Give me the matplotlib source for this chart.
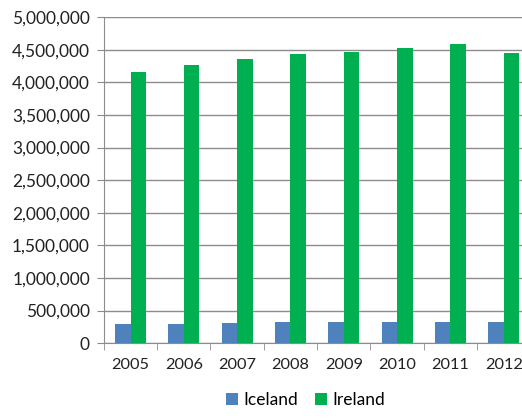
import matplotlib.pyplot as plt
from matplotlib.ticker import FuncFormatter, FixedLocator
import numpy as np

years = ["2005", "2006", "2007", "2008", "2009", "2010", "2011", "2012"]
iceland = [295000, 300000, 310000, 318000, 318000, 318000, 318000, 320000]
ireland = [4160000, 4260000, 4360000, 4430000, 4470000, 4520000, 4590000, 4450000]

plt.rcParams['font.family'] = ['Lato', 'DejaVu Sans']

fig = plt.figure(figsize=(5.22, 4.19), dpi=100)
ax = fig.add_axes([0.199, 0.181, 0.817, 0.778])

x = np.arange(len(years))
w = 0.29
ax.bar(x - w / 2, iceland, w, color="#4F81BD", label="Iceland", zorder=3)
ax.bar(x + w / 2, ireland, w, color="#00B050", label="Ireland", zorder=3)

ax.set_xlim(-0.5, len(years) - 0.5)
ax.set_ylim(0, 5000000)
ax.set_yticks(np.arange(0, 5000001, 500000))
ax.yaxis.set_major_formatter(FuncFormatter(lambda v, p: "{:,.0f}".format(v)))
ax.yaxis.grid(True, color="#8c8c8c", linewidth=1, zorder=0)

# category labels centred, tick marks on the category boundaries
ax.set_xticks(x)
ax.set_xticklabels(years)
ax.tick_params(axis="x", which="major", length=0, pad=11, labelsize=11.8, colors="#222222")
ax.xaxis.set_minor_locator(FixedLocator(np.arange(-0.5, len(years), 1)))
ax.tick_params(axis="x", which="minor", length=5, color="#8c8c8c")
ax.tick_params(axis="y", length=5, color="#8c8c8c", labelsize=12.5, labelcolor="#222222", pad=5)
# last year label sits against the right edge, nudge it left a touch
ax.get_xticklabels()[-1].set_x(len(years) - 1.06)

for s in ["top", "right"]:
    ax.spines[s].set_visible(False)
for s in ["left", "bottom"]:
    ax.spines[s].set_color("#8c8c8c")

fig.legend(loc="lower center", bbox_to_anchor=(0.585, -0.012), ncol=2, frameon=False,
           fontsize=12.5, handlelength=0.7, handleheight=0.7, handletextpad=0.3,
           columnspacing=1.0)

fig.savefig("out.png", dpi=100)
